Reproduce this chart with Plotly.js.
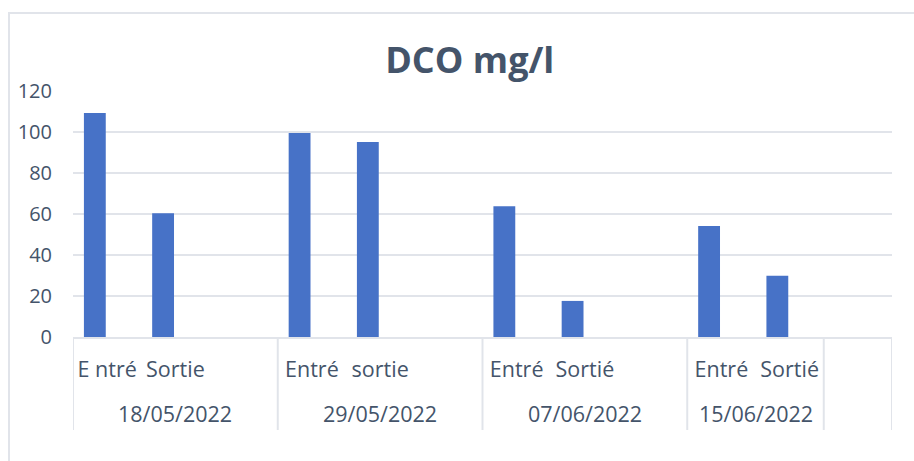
<!DOCTYPE html>
<html>
<head>
<meta charset="utf-8">
<script src="https://cdn.plot.ly/plotly-3.0.1.min.js"></script>
<style>
html,body{margin:0;padding:0;background:#fff;}
#wrap{position:relative;width:914px;height:461px;}
#chart{position:absolute;left:0;top:0;width:914px;height:461px;}
#frame{position:absolute;left:8px;top:12px;width:906px;height:449px;border-left:2px solid #e1e4ea;border-top:2px solid #e1e4ea;pointer-events:none;}
</style>
</head>
<body>
<div id="wrap"><div id="chart"></div><div id="frame"></div></div>
<script>
// Data
const dates = ["18/05/2022","18/05/2022","18/05/2022",
               "29/05/2022","29/05/2022","29/05/2022",
               "07/06/2022","07/06/2022","07/06/2022",
               "15/06/2022","15/06/2022",""];
const labels = ["E ntré","Sortie","",
                "Entré","sortie","",
                "Entré","Sortié","",
                "Entré","Sortié",""];
const dco = [109.3, 60.4, null,
             99.5, 95.1, null,
             63.8, 17.6, null,
             54.1, 29.9, null];
const yTicks = [0,20,40,60,80,100,120];

const textColor = "#44546a";
const lineColor = "#e1e4ea";
const font = "Open Sans, Noto Sans, sans-serif";

const idx = labels.map((_, i) => i);

// group spans built from the dates list
const groups = [];
dates.forEach((d, i) => {
  const last = groups[groups.length - 1];
  if (last && last.name === d) last.end = i;
  else groups.push({name: d, start: i, end: i});
});

const annotations = groups.filter(g => g.name !== "").map(g => ({
  x: (g.start + g.end) / 2,
  xref: "x", yref: "paper", y: -0.309, yanchor: "middle", xanchor: "center",
  text: g.name, showarrow: false,
  font: {family: font, size: 21.5, color: textColor}
}));

const bounds = [groups[0].start - 0.5].concat(groups.map(g => g.end + 0.5));
const shapes = bounds.map(b => ({
  type: "line", xref: "x", yref: "paper",
  x0: b, x1: b, y0: 0, y1: -0.378,
  line: {color: lineColor, width: 2}
}));

const trace = {
  type: "bar",
  x: idx,
  y: dco,
  width: 0.32,
  offset: -0.34,
  marker: {color: "#4772c7", line: {width: 0}},
  hoverinfo: "y"
};

const layout = {
  width: 914, height: 461,
  margin: {l: 73, r: 22, t: 91, b: 124, pad: 0},
  paper_bgcolor: "#ffffff",
  plot_bgcolor: "#ffffff",
  showlegend: false,
  title: {
    text: "<b>DCO mg/l</b>",
    font: {family: font, size: 36, color: textColor},
    x: 0.514, xanchor: "center",
    y: 0.868, yanchor: "middle", yref: "container"
  },
  xaxis: {
    type: "linear",
    range: [-0.5, labels.length - 0.5],
    tickvals: idx,
    ticktext: labels,
    showgrid: false,
    showline: true, linecolor: lineColor, linewidth: 2,
    ticks: "",
    ticklabelstandoff: 12,
    tickfont: {family: font, size: 21.5, color: textColor},
    zeroline: false
  },
  yaxis: {
    range: [0, 120],
    tickvals: yTicks,
    ticktext: yTicks.map(String),
    showgrid: true, gridcolor: lineColor, gridwidth: 2,
    zeroline: false, showline: false,
    ticks: "",
    ticklabelstandoff: 20,
    tickfont: {family: font, size: 20, color: textColor}
  },
  annotations: annotations,
  shapes: shapes
};

Plotly.newPlot("chart", [trace], layout, {displayModeBar: false, staticPlot: true});
</script>
</body>
</html>
